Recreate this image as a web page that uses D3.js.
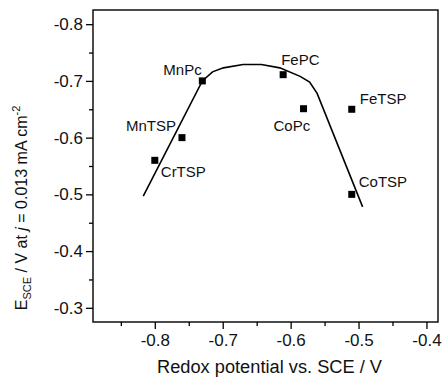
<!DOCTYPE html>
<html>
<head>
<meta charset="utf-8">
<script src="https://cdn.jsdelivr.net/npm/d3@7"></script>
<style>
  html, body { margin: 0; padding: 0; background: #fff; }
  svg { display: block; font-family: Arial, "Liberation Sans", Helvetica, sans-serif; }
</style>
</head>
<body>
<svg id="chart" width="443" height="379"></svg>
<script>
// ---- data ----
const pointNames = ["CrTSP", "MnTSP", "MnPc", "FePC", "CoPc", "FeTSP", "CoTSP"];
const pointX = [-0.800, -0.760, -0.730, -0.611, -0.581, -0.510, -0.510];
const pointY = [-0.560, -0.600, -0.700, -0.711, -0.651, -0.650, -0.500];

const curveX = [-0.817, -0.730, -0.715, -0.699, -0.670, -0.643, -0.616, -0.586, -0.572, -0.561, -0.494];
const curveY = [-0.497, -0.700, -0.716, -0.723, -0.729, -0.729, -0.723, -0.708, -0.698, -0.678, -0.478];

const xTicks = [-0.8, -0.7, -0.6, -0.5, -0.4];
const xMinor = [-0.85, -0.75, -0.65, -0.55, -0.45];
const yTicks = [-0.8, -0.7, -0.6, -0.5, -0.4, -0.3];
const yMinor = [-0.75, -0.65, -0.55, -0.45, -0.35];

// label offsets relative to point (dx, dy) in px
const labelDx = [6, -56, -39, -2, -30, 8, 7];
const labelDy = [17, -7, -6, -10, 22, -5, -7];

// ---- layout ----
const L = 93, R = 438, T = 10, B = 322;
const svg = d3.select("#chart");
const x = d3.scaleLinear().domain([-0.891, -0.383]).range([L, R]);
const y = d3.scaleLinear().domain([-0.825, -0.275]).range([T, B]);

const fmt = d => d.toFixed(1);

svg.append("g").attr("transform", `translate(0,${B})`)
  .call(d3.axisBottom(x).tickValues(xTicks).tickFormat(fmt).tickSize(7).tickPadding(5));
svg.append("g").attr("transform", `translate(0,${B})`)
  .call(d3.axisBottom(x).tickValues(xMinor).tickFormat("").tickSize(4));
svg.append("g").attr("transform", `translate(${L},0)`)
  .call(d3.axisLeft(y).tickValues(yTicks).tickFormat(fmt).tickSize(7).tickPadding(3));
svg.append("g").attr("transform", `translate(${L},0)`)
  .call(d3.axisLeft(y).tickValues(yMinor).tickFormat("").tickSize(4));

svg.selectAll(".domain").remove();
svg.selectAll(".tick line").attr("stroke", "#000").attr("stroke-width", 1.3);
svg.selectAll(".tick text").attr("fill", "#111").style("font-size", "17px");

// frame
svg.append("rect").attr("x", L).attr("y", T).attr("width", R - L).attr("height", B - T)
  .attr("fill", "none").attr("stroke", "#000").attr("stroke-width", 1.4);

// curve
const line = d3.line().x(d => x(d[0])).y(d => y(d[1])).curve(d3.curveLinear);
svg.append("path").datum(curveX.map((v, i) => [v, curveY[i]]))
  .attr("d", line).attr("fill", "none").attr("stroke", "#000").attr("stroke-width", 1.6);

// points
const pts = pointNames.map((n, i) => ({ n, x: pointX[i], y: pointY[i], dx: labelDx[i], dy: labelDy[i] }));
svg.append("g").selectAll("rect").data(pts).join("rect")
  .attr("x", d => x(d.x) - 3.5).attr("y", d => y(d.y) - 3.5)
  .attr("width", 7).attr("height", 7).attr("fill", "#000");

svg.append("g").selectAll("text").data(pts).join("text")
  .attr("x", d => x(d.x) + d.dx).attr("y", d => y(d.y) + d.dy)
  .style("font-size", "15px").attr("fill", "#111").text(d => d.n);

// x label
svg.append("text").attr("x", (L + R) / 2 + 4).attr("y", 373)
  .attr("text-anchor", "middle").style("font-size", "18px").attr("fill", "#111")
  .attr("textLength", 225).attr("lengthAdjust", "spacingAndGlyphs")
  .text("Redox potential vs. SCE / V");

// y label
const yl = svg.append("text").attr("transform", "translate(27,208) rotate(-90)")
  .attr("text-anchor", "middle").style("font-size", "16px").attr("fill", "#111");
yl.append("tspan").text("E");
yl.append("tspan").attr("dy", 4).style("font-size", "11px").text("SCE");
yl.append("tspan").attr("dy", -4).text(" / V at ");
yl.append("tspan").style("font-style", "italic").text("j");
yl.append("tspan").text(" = 0.013 mA cm");
yl.append("tspan").attr("dy", -7).style("font-size", "11px").text("-2");
</script>
</body>
</html>
